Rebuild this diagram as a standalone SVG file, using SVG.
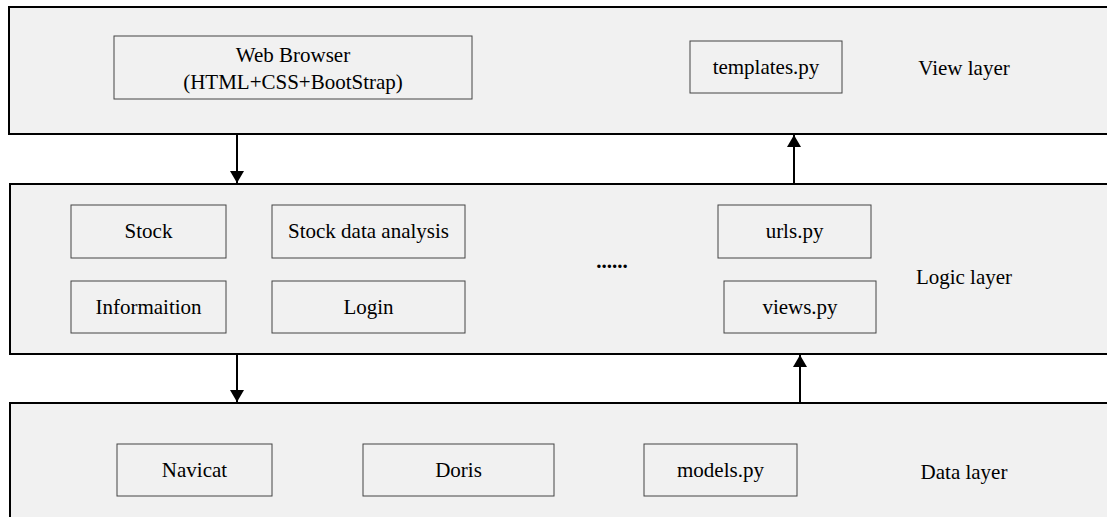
<svg xmlns="http://www.w3.org/2000/svg" width="1107" height="517" viewBox="0 0 1107 517">
<style>
.layer{fill:#f1f1f1;stroke:#000;stroke-width:2}
.box{fill:#f1f1f1;stroke:#444;stroke-width:1}
text{font-family:'Liberation Serif','Tinos','Times New Roman','DejaVu Serif',serif;font-size:21px;fill:#000;text-anchor:middle}
.conn{stroke:#000;stroke-width:2;fill:none}
</style>
<defs>
<marker id="ah" viewBox="0 0 12 14" refX="12" refY="7" markerWidth="12" markerHeight="14" markerUnits="userSpaceOnUse" orient="auto">
<path d="M0,0 L12,7 L0,14 z" fill="#000"/>
</marker>
</defs>
<g id="view-layer">
<rect class="layer" x="9" y="7" width="1110" height="127"/>
<text x="964" y="75" font-family="Liberation Serif, serif">View layer</text>
</g>
<g id="logic-layer">
<rect class="layer" x="10" y="184" width="1110" height="170"/>
<text x="964" y="284">Logic layer</text>
</g>
<g id="data-layer">
<rect class="layer" x="10" y="403" width="1110" height="130"/>
<text x="964" y="479">Data layer</text>
</g>
<g id="web-browser">
<rect class="box" x="114" y="36" width="358" height="63"/>
<text x="293" y="62">Web Browser</text>
<text x="293" y="89">(HTML+CSS+BootStrap)</text>
</g>
<g id="templates">
<rect class="box" x="690" y="41" width="152" height="52"/>
<text x="766" y="74">templates.py</text>
</g>
<g id="stock">
<rect class="box" x="71" y="205" width="155" height="53"/>
<text x="148.5" y="238">Stock</text>
</g>
<g id="stock-data-analysis">
<rect class="box" x="272" y="205" width="193" height="53"/>
<text x="368.5" y="238">Stock data analysis</text>
</g>
<g id="informaition">
<rect class="box" x="71" y="281" width="155" height="52"/>
<text x="148.5" y="314">Informaition</text>
</g>
<g id="login">
<rect class="box" x="272" y="281" width="193" height="52"/>
<text x="368.5" y="314">Login</text>
</g>
<g id="ellipsis">
<text x="612" y="268" style="font-weight:bold">......</text>
</g>
<g id="urls">
<rect class="box" x="718" y="205" width="153" height="53"/>
<text x="794.5" y="238">urls.py</text>
</g>
<g id="views">
<rect class="box" x="724" y="281" width="152" height="52"/>
<text x="800" y="314">views.py</text>
</g>
<g id="navicat">
<rect class="box" x="117" y="444" width="155" height="52"/>
<text x="194.5" y="477">Navicat</text>
</g>
<g id="doris">
<rect class="box" x="363" y="444" width="191" height="52"/>
<text x="458.5" y="477">Doris</text>
</g>
<g id="models">
<rect class="box" x="644" y="444" width="153" height="52"/>
<text x="720.5" y="477">models.py</text>
</g>
<g id="connectors">
<line class="conn" x1="237" y1="134" x2="237" y2="183" marker-end="url(#ah)"/>
<line class="conn" x1="794" y1="184" x2="794" y2="135" marker-end="url(#ah)"/>
<line class="conn" x1="237" y1="354" x2="237" y2="402" marker-end="url(#ah)"/>
<line class="conn" x1="800" y1="403" x2="800" y2="355" marker-end="url(#ah)"/>
</g>
</svg>
